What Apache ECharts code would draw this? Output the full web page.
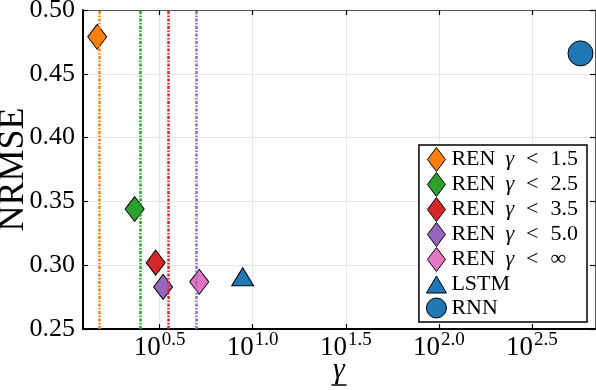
<!DOCTYPE html>
<html>
<head>
<meta charset="utf-8">
<script src="https://cdn.jsdelivr.net/npm/echarts@6/dist/echarts.min.js"></script>
<style>
html,body{margin:0;padding:0;background:#fff;}
#chart{width:596px;height:390px;}
</style>
</head>
<body>
<div id="chart"></div>
<script>
// ---- data ----
const seriesNames = ['REN γ < 1.5', 'REN γ < 2.5', 'REN γ < 3.5', 'REN γ < 5.0', 'REN γ < ∞', 'LSTM', 'RNN'];
const gammaValues = [1.46, 2.32, 3.01, 3.30, 5.16, 8.83, 577];
const nrmseValues = [0.479, 0.344, 0.302, 0.283, 0.287, 0.291, 0.466];
const boundValues = [1.5, 2.5, 3.5, 5.0];
const xTickExponents = [0.5, 1.0, 1.5, 2.0, 2.5];
const yTicks = [0.25, 0.30, 0.35, 0.40, 0.45, 0.50];

// ---- styling ----
const colors = ['#ff7f0e', '#2ca02c', '#d62728', '#9467bd', '#e377c2', '#1f77b4', '#1f77b4'];
const symbols = ['diamond', 'diamond', 'diamond', 'diamond', 'diamond', 'triangle', 'circle'];
const symbolSizes = [[19, 25], [19, 25], [19, 25], [19, 25], [19, 25], [22, 18], 25];
const diamondIcon = 'path://M10,0 L19,12 L10,24 L1,12 Z M0,12 M20,12';
const triangleIcon = 'path://M10,3.5 L20,20.5 L0,20.5 Z M10,0 M10,24';
const legendIcons = [diamondIcon, diamondIcon, diamondIcon, diamondIcon, diamondIcon, triangleIcon, 'circle'];

const xMin = Math.pow(10, 0.088);
const xMax = Math.pow(10, 2.839);
const xTickValues = xTickExponents.map(e => Math.pow(10, e));
const FONT = 'Liberation Serif';

const chart = echarts.init(document.getElementById('chart'), null, {renderer: 'canvas'});

const series = seriesNames.map((name, i) => ({
  name: name,
  type: 'scatter',
  z: 3,
  symbol: symbols[i],
  symbolSize: symbolSizes[i],
  itemStyle: {color: colors[i], borderColor: '#000', borderWidth: 1, opacity: 1},
  emphasis: {disabled: true},
  data: [[gammaValues[i], nrmseValues[i]]]
}));

series.push({
  name: 'bounds',
  type: 'scatter',
  z: 1,
  data: [],
  silent: true,
  markLine: {
    silent: true,
    symbol: 'none',
    animation: false,
    label: {show: false},
    emphasis: {disabled: true},
    data: boundValues.map((v, i) => ({
      xAxis: v,
      lineStyle: {color: colors[i], width: 2.5, type: [3, 1.5, 1.5, 1.5], opacity: 1}
    }))
  }
});

const option = {
  animation: false,
  backgroundColor: '#fff',
  grid: {left: 83, right: 1, top: 10, bottom: 61, containLabel: false, outerBoundsMode: 'none'},
  legend: {
    orient: 'vertical',
    right: 9,
    top: 145,
    padding: [2, 9, 3, 7],
    itemGap: 0,
    itemWidth: 20,
    itemHeight: 24,
    backgroundColor: '#fff',
    borderColor: '#000',
    borderWidth: 1.5,
    borderRadius: 0,
    selectedMode: false,
    data: seriesNames.map((n, i) => ({name: n, icon: legendIcons[i]})),
    itemStyle: {borderColor: '#000', borderWidth: 1},
    formatter: function (name) {
      const m = name.match(/^REN γ < (.+)$/);
      if (m) {
        return '{t|REN}{i|γ}{o|<}{t|' + m[1] + '}';
      }
      return '{t|' + name + '}';
    },
    textStyle: {
      fontFamily: FONT,
      fontSize: 22,
      lineHeight: 22,
      color: '#000',
      rich: {
        t: {fontFamily: FONT, fontSize: 22, lineHeight: 22, color: '#000'},
        i: {fontFamily: FONT, fontSize: 22, lineHeight: 22, fontStyle: 'italic', color: '#000', padding: [0, 0, 0, 10]},
        o: {fontFamily: FONT, fontSize: 22, lineHeight: 22, color: '#000', padding: [0, 12, 0, 12]}
      }
    }
  },
  xAxis: [{
    type: 'log',
    logBase: 10,
    min: xMin,
    max: xMax,
    name: '{g|γ}\n{u| }',
    nameLocation: 'middle',
    nameGap: 29,
    nameMoveOverlap: false,
    nameTextStyle: {
      rich: {
        g: {fontFamily: FONT, fontSize: 30, fontStyle: 'italic', color: '#000', lineHeight: 24},
        u: {width: 15, height: 1.5, lineHeight: 6, fontSize: 1, backgroundColor: '#000'}
      }
    },
    axisLine: {show: true, onZero: false, lineStyle: {color: '#000', width: 2}},
    axisTick: {show: true, inside: true, length: 5, customValues: xTickValues, lineStyle: {color: '#000', width: 1.2}},
    axisLabel: {
      customValues: xTickValues,
      margin: 2,
      formatter: function (v) {
        return '{b|10}{s|' + Math.log10(v).toFixed(1) + '}';
      },
      rich: {
        b: {fontFamily: FONT, fontSize: 27, color: '#000', verticalAlign: 'bottom', lineHeight: 30},
        s: {fontFamily: FONT, fontSize: 19, color: '#000', verticalAlign: 'top', lineHeight: 30, padding: [0, 0, 0, 1]}
      }
    },
    splitLine: {show: true, lineStyle: {color: '#e6e6e6', width: 1}},
    minorTick: {show: false},
    minorSplitLine: {show: false}
  }, {
    type: 'log',
    logBase: 10,
    min: xMin,
    max: xMax,
    position: 'top',
    axisLine: {show: true, onZero: false, lineStyle: {color: '#555', width: 1}},
    axisTick: {show: true, inside: true, length: 5, customValues: xTickValues, lineStyle: {color: '#000', width: 1.2}},
    axisLabel: {show: false},
    splitLine: {show: false}
  }],
  yAxis: [{
    type: 'value',
    min: 0.25,
    max: 0.50,
    interval: 0.05,
    name: 'NRMSE',
    nameLocation: 'middle',
    nameRotate: 90,
    nameGap: 51,
    nameMoveOverlap: false,
    nameTextStyle: {fontFamily: FONT, fontSize: 36, color: '#000'},
    axisLine: {show: true, onZero: false, lineStyle: {color: '#000', width: 2}},
    axisTick: {show: true, inside: true, length: 5, lineStyle: {color: '#000', width: 1.2}},
    axisLabel: {
      margin: 8,
      fontFamily: FONT,
      fontSize: 26,
      color: '#000',
      formatter: v => v.toFixed(2)
    },
    splitLine: {show: true, lineStyle: {color: '#e6e6e6', width: 1}}
  }, {
    type: 'value',
    min: 0.25,
    max: 0.50,
    interval: 0.05,
    position: 'right',
    axisLine: {show: true, onZero: false, lineStyle: {color: '#555', width: 1}},
    axisTick: {show: true, inside: true, length: 5, lineStyle: {color: '#000', width: 1.2}},
    axisLabel: {show: false},
    splitLine: {show: false}
  }],
  series: series
};

chart.setOption(option);
</script>
</body>
</html>
